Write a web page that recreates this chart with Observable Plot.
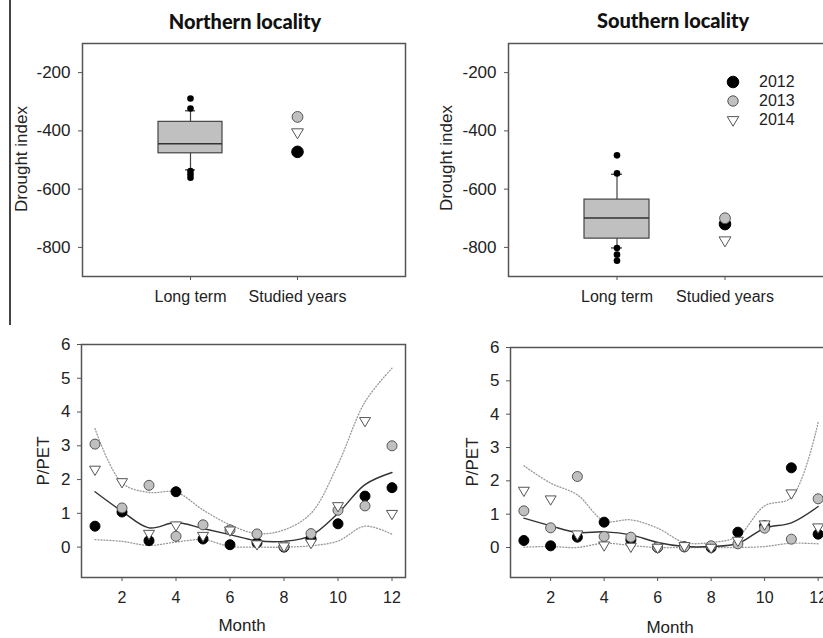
<!DOCTYPE html>
<html><head><meta charset="utf-8">
<script src="https://cdn.jsdelivr.net/npm/d3@7"></script>
<script src="https://cdn.jsdelivr.net/npm/@observablehq/plot@0.6"></script>
<style>
html,body{margin:0;padding:0;background:#fff;}
#fig{position:relative;width:823px;height:638px;overflow:hidden;font-family:"Liberation Sans",Arial,sans-serif;color:#222;}
.lab{position:absolute;white-space:nowrap;transform:translate(-50%,-50%);font-size:17px;line-height:1;}
.rot{transform:translate(-50%,-50%) rotate(-90deg);}
.title{position:absolute;white-space:nowrap;transform:translate(-50%,-50%);font-family:Lato,"Open Sans",sans-serif;font-weight:900;font-size:20px;color:#111;line-height:1;}
.leg{position:absolute;white-space:nowrap;font-size:16px;line-height:1;transform:translateY(-50%);}
.sep{position:absolute;left:9px;top:0;width:1.5px;height:325px;background:#444;}
</style></head><body><div id="fig"><div class="sep"></div></div>
<script>
// ---------- data ----------
const years = ["2012", "2013", "2014"];
const boxCategories = ["Long term", "Studied years"];
// box stats: [lower whisker, Q1, median, Q3, upper whisker]
const northBox = [-534, -477, -444, -369, -331];
const northOutliers = [-289, -323, -538, -549, -561];
const northStudied = [-472, -352, -405]; // 2012, 2013, 2014
const southBox = [-802, -770, -699, -636, -549];
const southOutliers = [-484, -546, -802, -825, -846];
const southStudied = [-720, -700, -776];

const months = [1, 2, 3, 4, 5, 6, 7, 8, 9, 10, 11, 12];
const monthTicks = [2, 4, 6, 8, 10, 12];
const ppetTicks = [0, 1, 2, 3, 4, 5, 6];
const droughtTicks = [-800, -600, -400, -200];

const north2012 = [0.62, 1.04, 0.19, 1.64, 0.24, 0.07, 0.13, 0.00, 0.25, 0.69, 1.51, 1.76];
const north2013 = [3.05, 1.16, 1.83, 0.32, 0.66, 0.51, 0.39, 0.02, 0.40, 1.09, 1.22, 3.00];
const north2014 = [2.30, 1.93, 0.40, 0.65, 0.34, 0.50, 0.09, 0.03, 0.13, 1.22, 3.74, 0.99];
const northFit   = [1.64, 1.06, 0.57, 0.73, 0.55, 0.37, 0.19, 0.17, 0.34, 1.00, 1.85, 2.21];
const northUpper = [3.51, 1.90, 1.62, 1.63, 1.10, 0.66, 0.40, 0.51, 1.00, 2.45, 4.30, 5.30];
const northLower = [0.22, 0.17, 0.05, 0.15, 0.22, 0.02, 0.00, 0.00, 0.04, 0.18, 0.62, 0.38];

const south2012 = [0.21, 0.05, 0.31, 0.76, 0.23, 0.00, 0.02, 0.00, 0.46, 0.65, 2.39, 0.40];
const south2013 = [1.10, 0.59, 2.13, 0.33, 0.31, 0.01, 0.02, 0.05, 0.11, 0.58, 0.25, 1.46];
const south2014 = [1.71, 1.45, 0.40, 0.07, 0.03, 0.00, 0.05, 0.00, 0.21, 0.70, 1.63, 0.61];
const southFit   = [0.88, 0.65, 0.45, 0.47, 0.38, 0.15, 0.03, 0.03, 0.12, 0.58, 0.74, 1.23];
const southUpper = [2.45, 1.93, 1.58, 0.80, 0.83, 0.58, 0.15, 0.15, 0.34, 1.25, 1.50, 3.75];
const southLower = [0.01, 0.03, 0.00, 0.13, 0.06, 0.00, 0.00, 0.00, 0.00, 0.03, 0.13, 0.11];

// ---------- styles ----------
const triangleDown = {
  draw(context, size) {
    const r = Math.sqrt(size / Math.PI);
    context.moveTo(-1.1 * r, -0.65 * r);
    context.lineTo(1.1 * r, -0.65 * r);
    context.lineTo(0, 1.2 * r);
    context.closePath();
  }
};
const yearStyles = [
  {fill: "#000", stroke: "#000", symbol: "circle"},
  {fill: "#c0c0c0", stroke: "#555", symbol: "circle"},
  {fill: "#fff", stroke: "#555", symbol: triangleDown}
];
const plotStyle = {fontFamily: "'Liberation Sans', Arial, sans-serif", fontSize: "16px", color: "#222", background: "transparent", overflow: "visible"};
const plainNumber = d => String(d);

const fig = document.getElementById("fig");
function place(el, left, top) {
  el.style.position = "absolute"; el.style.left = left + "px"; el.style.top = top + "px";
  fig.appendChild(el);
}
function text(cls, str, x, y) {
  const d = document.createElement("div");
  d.className = cls; d.textContent = str;
  d.style.left = x + "px"; d.style.top = y + "px";
  fig.appendChild(d);
}

function topPanel(box, outliers, studied, marginLeft, width) {
  const boxRow = [{cat: boxCategories[0], low: box[0], q1: box[1], median: box[2], q3: box[3], high: box[4]}];
  const outRows = outliers.map(v => ({cat: boxCategories[0], v}));
  const yearMarks = years.map((yr, i) => Plot.dot([{cat: boxCategories[1], v: studied[i]}], {
    x: "cat", y: "v", r: i === 0 ? 5.8 : 5.4, strokeWidth: 1, ...yearStyles[i]
  }));
  return Plot.plot({
    width, height: 320, marginLeft, marginRight: width === 411 ? 6 : 0, marginTop: 43, marginBottom: 44,
    style: plotStyle,
    x: {type: "band", domain: boxCategories, paddingInner: 0.4, paddingOuter: 0.7, label: null},
    y: {domain: [-900, -100], label: null},
    marks: [
      Plot.frame({stroke: "#555", strokeWidth: 1.5}),
      Plot.axisY({ticks: droughtTicks, tickFormat: plainNumber, tickSize: 4, tickPadding: 8, label: null, fontSize: 17, stroke: "#555", fill: "#222"}),
      Plot.axisX({tickSize: 4, tickPadding: 10, label: null, fontSize: 16, stroke: "#555", fill: "#222"}),
      Plot.ruleX(boxRow, {x: "cat", y1: "low", y2: "high", stroke: "#444", strokeWidth: 1.2}),
      Plot.tickY(boxRow, {x: "cat", y: "low", insetLeft: 27, insetRight: 27, stroke: "#333", strokeWidth: 1.2}),
      Plot.tickY(boxRow, {x: "cat", y: "high", insetLeft: 27, insetRight: 27, stroke: "#333", strokeWidth: 1.2}),
      Plot.barY(boxRow, {x: "cat", y1: "q1", y2: "q3", fill: "#c0c0c0", stroke: "#444", strokeWidth: 1.2}),
      Plot.tickY(boxRow, {x: "cat", y: "median", stroke: "#333", strokeWidth: 1.5}),
      Plot.dot(outRows, {x: "cat", y: "v", r: 3.3, fill: "#000"}),
      ...yearMarks
    ]
  });
}

function bottomPanel(series, fit, upper, lower, marginLeft, marginTop, width) {
  const dotted = {x: d => d, curve: "catmull-rom", stroke: "#999", strokeWidth: 1.3, strokeDasharray: "1,2"};
  return Plot.plot({
    width, height: 318, marginLeft, marginRight: width === 411 ? 6 : 0, marginTop, marginBottom: 61,
    style: plotStyle,
    x: {domain: [0.5, 12.5], label: null},
    y: {domain: [-0.9, 6], label: null},
    marks: [
      Plot.frame({stroke: "#555", strokeWidth: 1.5}),
      Plot.axisY({ticks: ppetTicks, tickFormat: plainNumber, tickSize: 4, tickPadding: 7, label: null, fontSize: 17, stroke: "#555", fill: "#222"}),
      Plot.axisX({ticks: monthTicks, tickFormat: plainNumber, tickSize: 4, tickPadding: 10, label: null, fontSize: 16, stroke: "#555", fill: "#222"}),
      Plot.line(months, {...dotted, y: (d, i) => upper[i]}),
      Plot.line(months, {...dotted, y: (d, i) => lower[i]}),
      Plot.line(months, {x: d => d, y: (d, i) => fit[i], curve: "catmull-rom", stroke: "#333", strokeWidth: 1.4}),
      ...series.map((vals, k) => Plot.dot(months, {x: d => d, y: (d, i) => vals[i], r: 5, strokeWidth: 1, ...yearStyles[k]}))
    ]
  });
}

place(topPanel(northBox, northOutliers, northStudied, 82, 411), 0, 0);
place(topPanel(southBox, southOutliers, southStudied, 97, 421), 411, 0);
place(bottomPanel([north2012, north2013, north2014], northFit, northUpper, northLower, 81, 24, 411), 0, 320);
place(bottomPanel([south2012, south2013, south2014], southFit, southUpper, southLower, 99, 27, 420), 411, 320);

text("title", "Northern locality", 245, 21);
text("title", "Southern locality", 673, 20);
text("lab rot", "Drought index", 21, 159);
text("lab rot", "Drought index", 446, 158);
text("lab rot", "P/PET", 43, 461);
text("lab rot", "P/PET", 472, 462);
text("lab", "Month", 242, 625);
text("lab", "Month", 670, 627);

// legend (top-right panel)
const legendY = [82, 101, 120];
years.forEach((yr, i) => {
  const s = yearStyles[i];
  const sym = d3.symbol().type(s.symbol === "circle" ? d3.symbolCircle : triangleDown).size((i === 0 ? 5.8 : 5.2) ** 2 * Math.PI)();
  const svg = d3.create("svg").attr("width", 16).attr("height", 16);
  svg.append("path").attr("d", sym).attr("transform", "translate(8,8)").attr("fill", s.fill).attr("stroke", s.stroke).attr("stroke-width", 1);
  place(svg.node(), 733 - 8, legendY[i] - 8);
  text("leg", yr, 759, legendY[i]);
});
</script></body></html>
